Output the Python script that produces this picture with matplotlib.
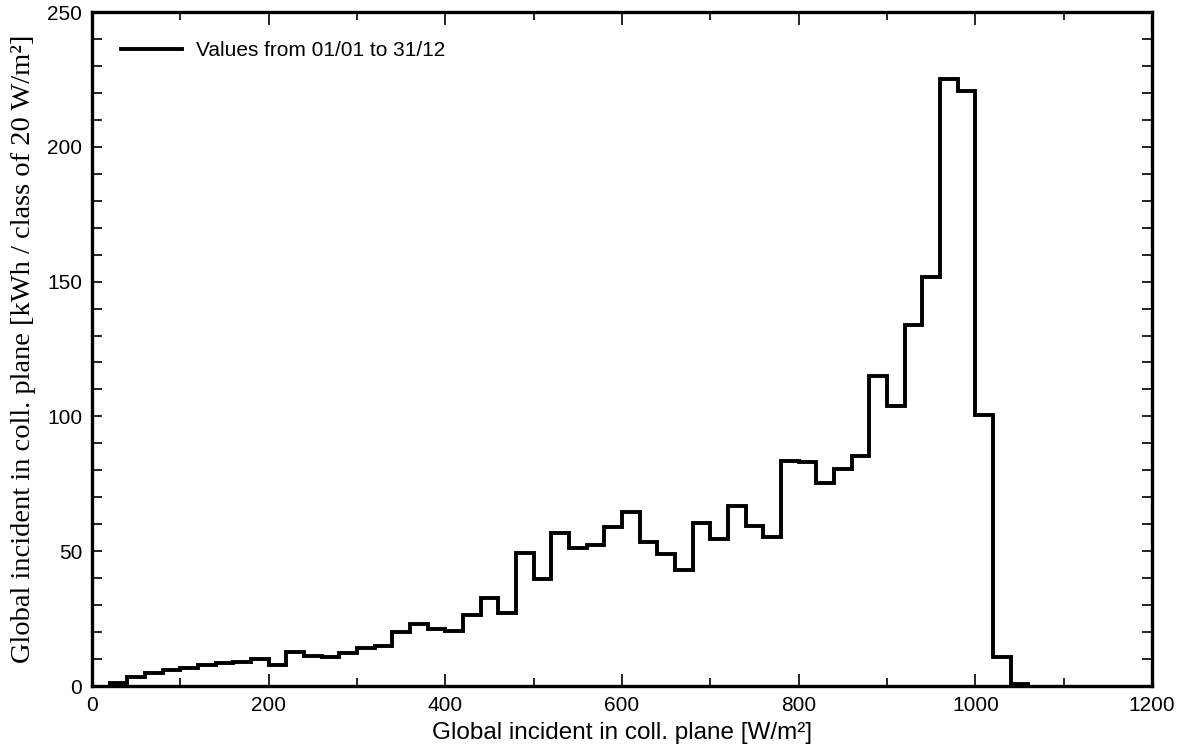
import matplotlib.pyplot as plt
from matplotlib.ticker import MultipleLocator

# Energy per irradiance class of 20 W/m2 (kWh), bins starting at 20 W/m2
bin_edges = list(range(20, 1061, 20))
energy = [1.2, 3.5, 4.7, 5.9, 6.5, 7.9, 8.4, 8.9, 10.1, 7.9,
          12.7, 11.3, 10.8, 12.4, 14.2, 15.0, 20.1, 23.0, 21.0, 20.4,
          26.3, 32.5, 27.2, 49.2, 39.7, 56.9, 51.2, 52.3, 59.1, 64.7,
          53.4, 48.8, 43.0, 60.3, 54.5, 66.8, 59.3, 55.4, 83.3, 83.0,
          75.3, 80.5, 85.2, 114.8, 103.8, 133.8, 151.8, 225.2, 220.6, 100.5,
          10.8, 0.6]

x_ticks = [0, 200, 400, 600, 800, 1000, 1200]
y_ticks = [0, 50, 100, 150, 200, 250]

plt.rcParams['font.family'] = ['Liberation Sans', 'DejaVu Sans']

fig = plt.figure(figsize=(11.84, 7.51), dpi=100)
ax = fig.add_axes([92 / 1184, 1 - 686 / 751, (1152 - 92) / 1184, (686 - 12) / 751])

ax.stairs(energy, bin_edges, color='black', linewidth=2.8,
          label='Values from 01/01 to 31/12')

ax.set_xlim(0, 1200)
ax.set_ylim(0, 250)
ax.set_xticks(x_ticks)
ax.set_yticks(y_ticks)
ax.xaxis.set_minor_locator(MultipleLocator(100))
ax.yaxis.set_minor_locator(MultipleLocator(10))

ax.tick_params(which='both', direction='in', top=True, right=True,
               labelsize=15, colors='black', pad=7)
ax.tick_params(axis='x', which='major', length=9, width=1.2)
ax.tick_params(axis='x', which='minor', length=6, width=1.2)
ax.tick_params(axis='y', which='both', length=7, width=1.2)

for s in ax.spines.values():
    s.set_linewidth(2.4)

ax.set_xlabel('Global incident in coll. plane [W/m²]', fontsize=17.5, labelpad=5)
ax.set_ylabel('Global incident in coll. plane [kWh / class of 20 W/m²]',
              fontsize=20.5, family=['Liberation Serif', 'DejaVu Serif'], labelpad=8)

ax.legend(loc='upper left', frameon=False, fontsize=15, handlelength=2.9,
          borderaxespad=0.9, handletextpad=0.7, borderpad=0.5)

fig.savefig('out.png', dpi=100)
